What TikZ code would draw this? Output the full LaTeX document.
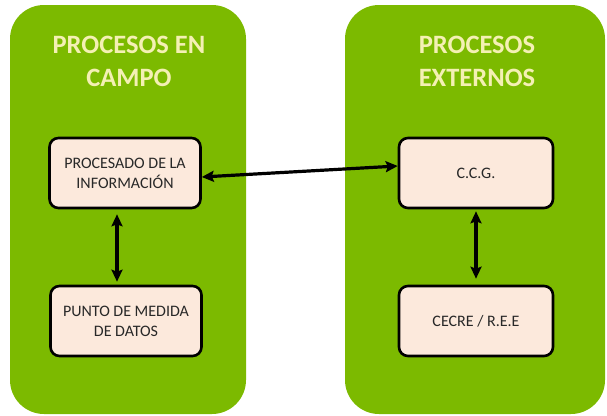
\documentclass[tikz,border=0pt]{standalone}
\usepackage{fontspec}
\setmainfont{Carlito}
\usetikzlibrary{arrows.meta}

\definecolor{panelgreen}{RGB}{124,186,0}
\definecolor{titleyellow}{RGB}{244,240,180}
\definecolor{boxpeach}{RGB}{252,233,220}
\definecolor{boxtext}{RGB}{40,40,40}

\tikzset{
	panel/.style = {fill = panelgreen, rounded corners = 34pt},
	paneltitle/.style = {text = titleyellow, font = \fontsize{26.5}{33}\selectfont\bfseries, align = center},
	procbox/.style = {draw = black, line width = 2.6pt, fill = boxpeach, rounded corners = 9pt,
		minimum width = 151pt, minimum height = 70pt, text = boxtext,
		font = \fontsize{16}{20}\selectfont, align = center},
	link/.style = {line width = 3.2pt, {Stealth[length=12pt,width=11pt,inset=2pt]}-{Stealth[length=12pt,width=11pt,inset=2pt]}}
}

\begin{document}
\begin{tikzpicture}[x = 1pt, y = -1pt]

\useasboundingbox (0, 0) rectangle (607, 415);

\fill[panel] (10, 5) rectangle (246, 414);
\fill[panel] (345, 5) rectangle (605, 414);

\node[paneltitle] (campo) at (129, 61) {PROCESOS EN\\CAMPO};
\node[paneltitle] (externos) at (477, 61) {PROCESOS\\EXTERNOS};

\node[procbox] (procinfo) at (125, 173) {PROCESADO DE LA\\INFORMACIÓN};
\node[procbox] (medida) at (126, 321) {PUNTO DE MEDIDA\\DE DATOS};
\node[procbox, minimum width = 154pt] (ccg) at (476, 173) {C.C.G.};
\node[procbox, minimum width = 154pt] (cecre) at (476, 321) {CECRE / R.E.E};

\draw[link] ([yshift = -4pt]procinfo.east) -- ([yshift = 7pt]ccg.west);
\draw[link] ([xshift = -8pt, yshift = -5pt]procinfo.south) -- ([xshift = -9pt, yshift = 3pt]medida.north);
\draw[link] ([yshift = -2pt]ccg.south) -- ([yshift = 6pt]cecre.north);

\end{tikzpicture}
\end{document}
